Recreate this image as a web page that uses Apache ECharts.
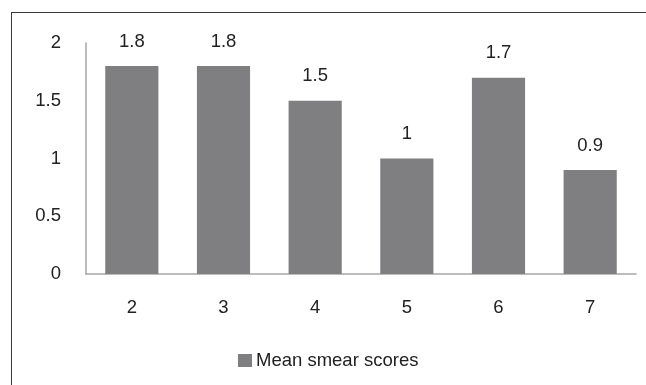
<!DOCTYPE html>
<html>
<head>
<meta charset="utf-8">
<script src="https://cdn.jsdelivr.net/npm/echarts@6/dist/echarts.min.js"></script>
<style>
  html, body { margin: 0; padding: 0; background: #fff; }
  #frame { position: absolute; left: 11px; top: 12px; width: 640px; height: 380px;
           border-left: 1.5px solid #3a3a3a; border-top: 1.5px solid #3a3a3a; }
  #chart { position: absolute; left: 0; top: 0; width: 646px; height: 385px; }
</style>
</head>
<body>
<div id="frame"></div>
<div id="chart"></div>
<script>
// Mean smear score for each group
const categories = ['2', '3', '4', '5', '6', '7'];
const meanSmearScores = [1.8, 1.8, 1.5, 1, 1.7, 0.9];
const yTicks = [0, 0.5, 1, 1.5, 2];
const seriesName = 'Mean smear scores';

const textStyle = { fontFamily: 'Liberation Sans, Arial, sans-serif', fontSize: 18.5, color: '#222' };

const chart = echarts.init(document.getElementById('chart'), null, { renderer: 'canvas' });
chart.setOption({
  animation: false,
  backgroundColor: 'transparent',
  grid: { left: 86, right: 10, top: 43, bottom: 111, containLabel: false },
  legend: {
    data: [seriesName],
    left: 238, top: 351,
    padding: 0,
    itemWidth: 14, itemHeight: 13, itemGap: 10,
    icon: 'rect',
    textStyle: Object.assign({}, textStyle, { padding: [0, 0, 0, -1] })
  },
  xAxis: {
    type: 'category',
    data: categories,
    axisLine: { lineStyle: { color: '#a6a6a6', width: 1.5 } },
    axisTick: { show: false },
    axisLabel: Object.assign({}, textStyle, { margin: 24 })
  },
  yAxis: {
    type: 'value',
    min: yTicks[0], max: yTicks[yTicks.length - 1], interval: 0.5,
    axisLine: { show: true, lineStyle: { color: '#a6a6a6', width: 1.5 } },
    axisTick: { show: false },
    splitLine: { show: false },
    axisLabel: Object.assign({}, textStyle, {
      margin: 25,
      formatter: v => String(v)
    })
  },
  series: [{
    name: seriesName,
    type: 'bar',
    data: meanSmearScores,
    barCategoryGap: '42%',
    itemStyle: { color: '#7f7f82' },
    label: Object.assign({ show: true, position: 'top', distance: 15 }, textStyle)
  }]
});
</script>
</body>
</html>
